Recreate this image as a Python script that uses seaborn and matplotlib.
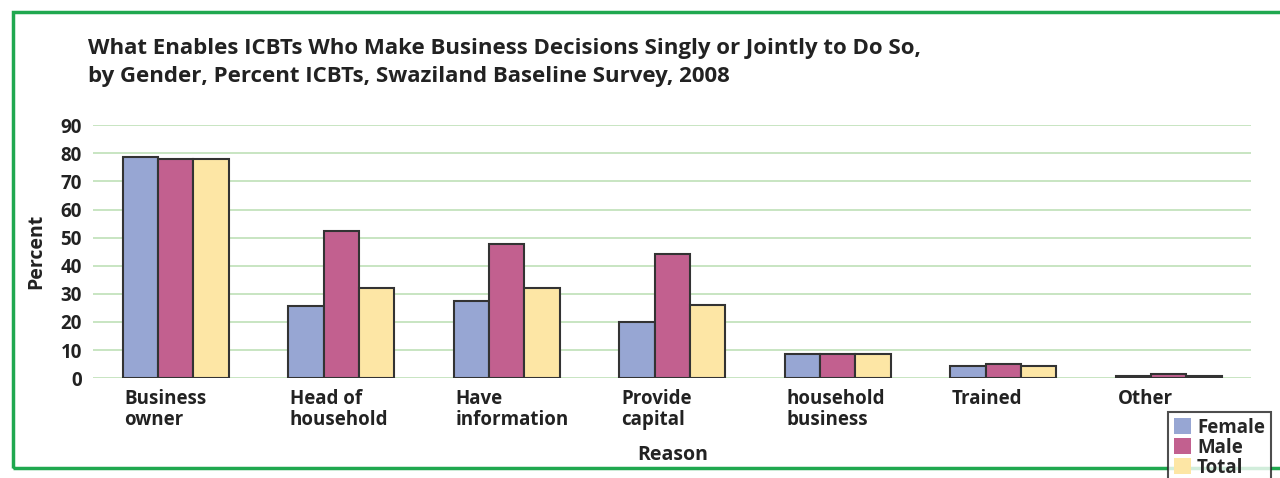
import pandas as pd
import numpy as np
import seaborn as sns
import matplotlib.pyplot as plt
from matplotlib.patches import Rectangle

reasons = ["Business\nowner", "Head of\nhousehold", "Have\ninformation", "Provide\ncapital",
           "household\nbusiness", "Trained", "Other"]
female = [78.8, 25.7, 27.6, 19.9, 8.6, 4.3, 0.7]
male = [78.1, 52.3, 47.6, 44.2, 8.6, 4.9, 1.3]
total = [78.1, 32.1, 32.0, 26.0, 8.6, 4.3, 0.7]
groups = ["Female", "Male", "Total"]

df = pd.DataFrame({"Reason": reasons * 3,
                   "Group": np.repeat(groups, len(reasons)),
                   "Percent": female + male + total})

sns.set_style("white")
plt.rcParams['font.family'] = ['Open Sans', 'DejaVu Sans']

fig = plt.figure(figsize=(12.8, 4.78), dpi=100)
ax = fig.add_axes([0.0727, 0.209, 0.905, 0.529])

pal = {"Female": "#97A6D3", "Male": "#C2608F", "Total": "#FDE6A5"}
sns.barplot(data=df, x="Reason", y="Percent", hue="Group", palette=pal,
            width=0.64, edgecolor="#333333", linewidth=1.5, saturation=1,
            ax=ax, legend=True, zorder=3)

ax.set_ylim(0, 90)
ax.set_xlim(-0.5, 6.5)
ax.set_yticks(range(0, 91, 10))
ax.yaxis.grid(True, color="#BFE0B8", linewidth=1.2, zorder=0)
ax.set_axisbelow(True)
for s in ax.spines.values():
    s.set_visible(False)

ax.set_xticks([i - 0.31 for i in range(len(reasons))])
ax.set_xticklabels(reasons, ha="left", fontweight="bold", fontsize=13.5,
                   linespacing=1.05, color="#222222")
ax.tick_params(axis="x", length=0, pad=8)
ax.tick_params(axis="y", length=0, pad=8, labelsize=13.5, labelcolor="#222222")
for t in ax.get_yticklabels():
    t.set_fontweight("bold")

ax.set_xlabel("Reason", fontweight="bold", fontsize=14, labelpad=8, color="#222222")
ax.xaxis.set_label_coords(0.5, -0.265)
ax.set_ylabel("Percent", fontweight="bold", fontsize=14, labelpad=10, color="#222222")

fig.text(0.069, 0.92, "What Enables ICBTs Who Make Business Decisions Singly or Jointly to Do So,\n"
         "by Gender, Percent ICBTs, Swaziland Baseline Survey, 2008",
         ha="left", va="top", fontsize=16, fontweight="bold", linespacing=1.45,
         color="#222222")

# green frame
fig.patches.append(Rectangle((13 / 1280, 1 - 468 / 478), 1.2, 456 / 478,
                             transform=fig.transFigure, fill=False,
                             edgecolor="#1FA84F", linewidth=2.5, zorder=0))

ax.get_legend().remove()
handles = [Rectangle((0, 0), 1, 1, facecolor=pal[g], edgecolor="none") for g in groups]
leg = fig.legend(handles, groups, loc="upper left",
                 bbox_to_anchor=(1168 / 1280, 1 - 412 / 478),
                 frameon=True, fancybox=False, edgecolor="#222222",
                 handlelength=0.9, handleheight=0.9, handletextpad=0.35,
                 labelspacing=0.0, borderpad=0.3, borderaxespad=0,
                 prop={"weight": "bold", "size": 13.5})
leg.get_frame().set_linewidth(1.5)
leg.set_zorder(5)

fig.savefig("out.png", dpi=100)
